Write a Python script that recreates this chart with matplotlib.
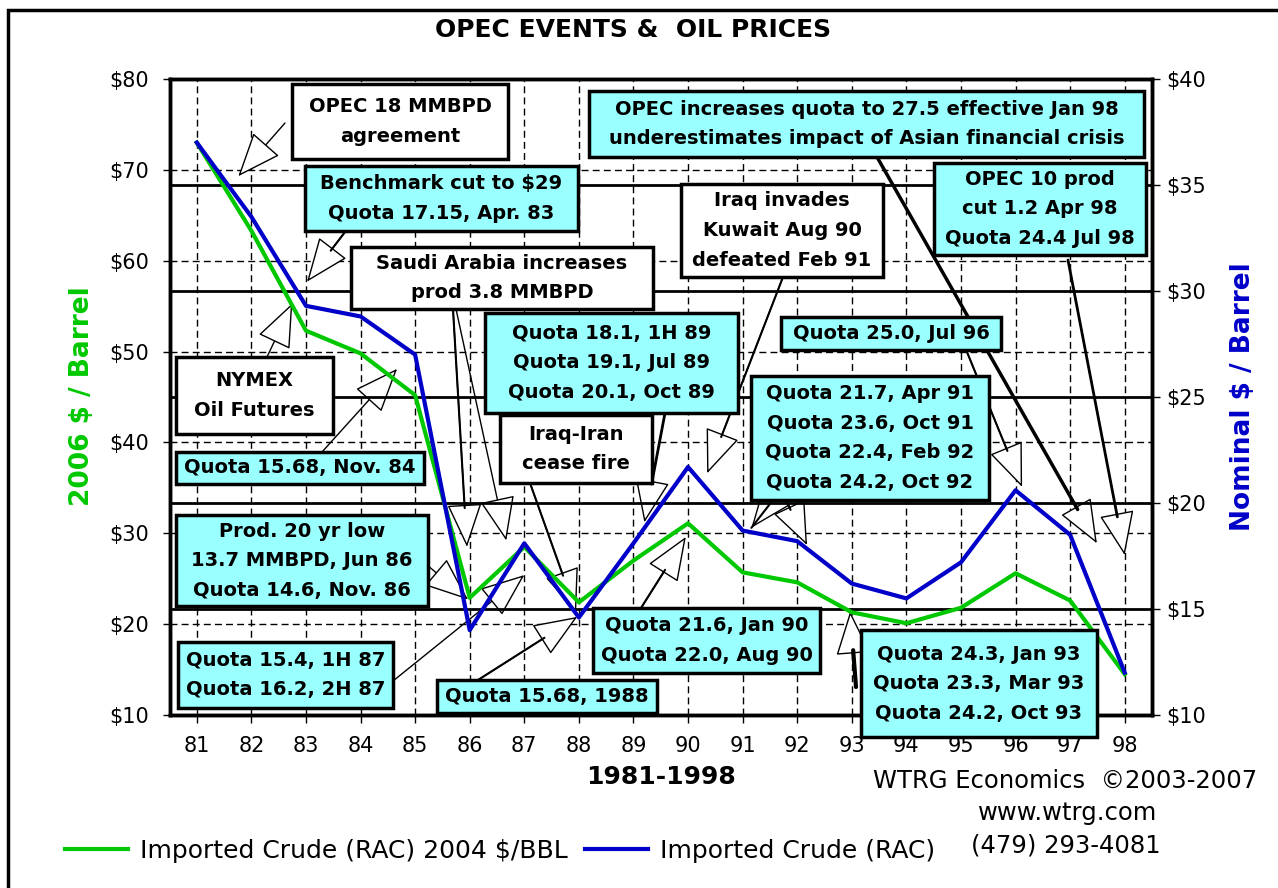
import matplotlib
matplotlib.use("Agg")
import matplotlib.pyplot as plt
from matplotlib.patches import Rectangle
from matplotlib.lines import Line2D

# ======================================
# data
# ======================================
years = list(range(81, 99))
year_labels = [str(y) for y in years]
# imported crude (RAC), constant dollars, left axis
real_price = [73.0, 63.3, 52.3, 49.8, 45.2, 22.9, 28.5, 22.4, 27.0, 31.1,
              25.7, 24.6, 21.3, 20.1, 21.8, 25.6, 22.6, 14.5]
# imported crude (RAC), nominal dollars, right axis
nominal_price = [37.0, 33.5, 29.3, 28.8, 27.0, 14.0, 18.1, 14.6, 18.1, 21.7,
                 18.7, 18.2, 16.2, 15.5, 17.2, 20.6, 18.5, 12.0]
left_ticks = [10, 20, 30, 40, 50, 60, 70, 80]
right_ticks = [10, 15, 20, 25, 30, 35, 40]

W, H = 1278, 888
GREEN = '#00c800'
BLUE = '#0000c8'
CYAN = '#99ffff'


def fx(x):
    return x / W


def fy(y):
    return 1 - y / H


# (texte, boite en pixels x0,y0,x1,y1, fond, fleches [(queue px, pointe data, epaisseur)])
annotations = [
    ("OPEC 18 MMBPD\nagreement", (292, 84, 508, 159), 'white',
     [((285, 123), (81.76, 69.3), 1)]),
    ("Benchmark cut to $29\nQuota 17.15, Apr. 83", (305, 166, 578, 231), CYAN,
     [((345, 232), (83.02, 57.7), 1.5)]),
    ("Saudi Arabia increases\nprod 3.8 MMBPD", (351, 247, 653, 309), 'white',
     [((453, 309), (85.95, 28.5), 1.5), ((456, 309), (86.67, 29.2), 1)]),
    ("NYMEX\nOil Futures", (176, 357, 333, 434), 'white',
     [((267, 357), (82.75, 55.3), 1)]),
    ("Quota 15.68, Nov. 84", (176, 452, 424, 484), CYAN,
     [((322, 452), (84.67, 48.1), 1)]),
    ("Prod. 20 yr low\n13.7 MMBPD, Jun 86\nQuota 14.6, Nov. 86", (176, 515, 428, 606), CYAN,
     [((427, 565), (85.97, 22.7), 1)]),
    ("Quota 15.4, 1H 87\nQuota 16.2, 2H 87", (178, 642, 393, 708), CYAN,
     [((393, 681), (87.0, 25.4), 1)]),
    ("Quota 15.68, 1988", (437, 680, 657, 713), CYAN,
     [((478, 680), (87.97, 20.8), 1.5)]),
    ("Iraq-Iran\ncease fire", (500, 415, 652, 483), 'white',
     [((530, 483), (87.95, 21.3), 1.5)]),
    ("Quota 18.1, 1H 89\nQuota 19.1, Jul 89\nQuota 20.1, Oct 89", (485, 313, 738, 413), CYAN,
     [((665, 413), (89.2, 31.2), 2)]),
    ("Quota 21.6, Jan 90\nQuota 22.0, Aug 90", (593, 608, 820, 673), CYAN,
     [((641, 608), (89.96, 29.6), 1.5)]),
    ("Iraq invades\nKuwait Aug 90\ndefeated Feb 91", (681, 184, 883, 277), 'white',
     [((783, 277), (90.35, 36.6), 1.5)]),
    ("OPEC increases quota to 27.5 effective Jan 98\nunderestimates impact of Asian financial crisis",
     (589, 91, 1144, 157), CYAN,
     [((877, 157), (97.49, 28.9), 2.5)]),
    ("OPEC 10 prod\ncut 1.2 Apr 98\nQuota 24.4 Jul 98", (934, 163, 1146, 255), CYAN,
     [((1068, 260), (98.0, 27.6), 2)]),
    ("Quota 25.0, Jul 96", (781, 317, 1001, 350), CYAN,
     [((967, 352), (96.12, 35.1), 1.5)]),
    ("Quota 21.7, Apr 91\nQuota 23.6, Oct 91\nQuota 22.4, Feb 92\nQuota 24.2, Oct 92",
     (751, 376, 989, 500), CYAN,
     [((773, 500), (91.16, 30.6), 1.5), ((785, 498), (92.18, 28.7), 1.5)]),
    ("Quota 24.3, Jan 93\nQuota 23.3, Mar 93\nQuota 24.2, Oct 93", (861, 630, 1097, 737), CYAN,
     [((856, 687), (92.97, 21.4), 3)]),
]

# ======================================
# figure et axes
# ======================================
fig = plt.figure(figsize=(W / 100, H / 100), dpi=100)
ax = fig.add_axes([fx(169.5), fy(715), fx(1152) - fx(169.5), fy(79) - fy(715)])
ax2 = ax.twinx()

ax.set_xlim(80.5, 98.5)
ax.set_ylim(10, 80)
ax2.set_ylim(10, 40)

ax.set_xticks(years)
ax.set_xticklabels(year_labels)
ax.set_yticks(left_ticks)
ax.set_yticklabels([f"${v}" for v in left_ticks])
ax2.set_yticks(right_ticks)
ax2.set_yticklabels([f"${v}" for v in right_ticks])

ax.tick_params(axis='x', labelsize=15, length=6, width=1, pad=9)
ax.tick_params(axis='y', labelsize=15, length=5, width=1, pad=10)
ax2.tick_params(axis='y', labelsize=15, length=6, width=1, pad=4)

ax.set_axisbelow(True)
ax2.set_axisbelow(True)
ax.grid(True, color='black', lw=1, ls=(0, (5, 3)))
ax2.grid(True, axis='y', color='black', lw=2, ls='-')

for a in (ax, ax2):
    for s in a.spines.values():
        s.set_linewidth(2.5)

# courbes (la verte est sur l'echelle de gauche)
ax2.plot(years, real_price, color=GREEN, lw=3, transform=ax.transData, zorder=3)
ax2.plot(years, nominal_price, color=BLUE, lw=3, zorder=4)
ax2.set_ylim(10, 40)
ax.set_xlim(80.5, 98.5)

# ======================================
# fleches puis boites
# ======================================
head_style = '-|>,head_length=0.95,head_width=0.38'
for texte, (x0, y0, x1, y1), fond, fleches in annotations:
    for (tx, ty), tip, epais in fleches:
        ax.annotate('', xy=tip, xycoords='data', xytext=(fx(tx), fy(ty)),
                    textcoords='figure fraction', zorder=3,
                    arrowprops=dict(arrowstyle=head_style, mutation_scale=30,
                                    fc='white', ec='black', lw=1,
                                    shrinkA=0, shrinkB=0))
        if epais > 1:
            ax.annotate('', xy=tip, xycoords='data', xytext=(fx(tx), fy(ty)),
                        textcoords='figure fraction', zorder=3,
                        arrowprops=dict(arrowstyle='-', lw=epais, color='black',
                                        shrinkA=0, shrinkB=28))
    fig.patches.append(Rectangle((fx(x0), fy(y1)), fx(x1) - fx(x0), fy(y0) - fy(y1),
                                 transform=fig.transFigure, facecolor=fond,
                                 edgecolor='black', lw=2.5, zorder=5))
    fig.text(fx((x0 + x1) / 2), fy((y0 + y1) / 2), texte, ha='center', va='center',
             fontsize=14, fontweight='bold', linespacing=1.7, zorder=6)

# ======================================
# textes
# ======================================
fig.text(fx(633), fy(30), "OPEC EVENTS &  OIL PRICES", ha='center', va='center',
         fontsize=18, fontweight='bold')
fig.text(fx(82), fy(396), "2006 $ / Barrel", rotation=90, ha='center', va='center',
         fontsize=19, fontweight='bold', color=GREEN)
fig.text(fx(1243), fy(397), "Nominal $ / Barrel", rotation=90, ha='center', va='center',
         fontsize=19, fontweight='bold', color=BLUE)
fig.text(fx(661), fy(777), "1981-1998", ha='center', va='center',
         fontsize=18, fontweight='bold')
fig.text(fx(873), fy(781), "WTRG Economics  \u00a92003-2007", ha='left', va='center', fontsize=17.5)
fig.text(fx(1068), fy(813), "www.wtrg.com", ha='center', va='center', fontsize=17.5)
fig.text(fx(1066), fy(845), "(479) 293-4081", ha='center', va='center', fontsize=17.5)

handles = [Line2D([], [], color=GREEN, lw=3), Line2D([], [], color=BLUE, lw=3)]
fig.legend(handles, ["Imported Crude (RAC) 2004 $/BBL", "Imported Crude (RAC)"],
           loc='center left', bbox_to_anchor=(fx(65), fy(851)), ncol=2, frameon=False,
           fontsize=18, handlelength=2.5, handletextpad=0.5, columnspacing=0.7,
           borderpad=0, borderaxespad=0)

# cadre exterieur
fig.patches.append(Rectangle((fx(8), -0.1), 1.2, fy(10) + 0.1, transform=fig.transFigure,
                             fill=False, edgecolor='black', lw=2.5, zorder=0))

fig.savefig("out.png", dpi=100)
